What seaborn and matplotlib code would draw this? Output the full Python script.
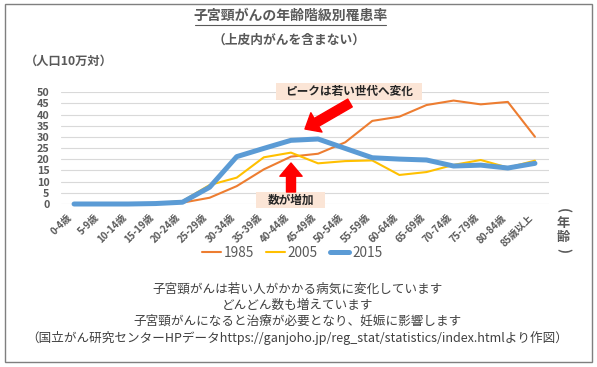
import matplotlib
matplotlib.use('Agg')
import matplotlib.pyplot as plt
from matplotlib.patches import Rectangle
from matplotlib.lines import Line2D
import pandas as pd
import seaborn as sns

ages = ['0-4歳', '5-9歳', '10-14歳', '15-19歳', '20-24歳', '25-29歳', '30-34歳',
        '35-39歳', '40-44歳', '45-49歳', '50-54歳', '55-59歳', '60-64歳',
        '65-69歳', '70-74歳', '75-79歳', '80-84歳', '85歳以上']
r1985 = [0, 0, 0, 0.2, 0.6, 2.8, 8.0, 15.5, 21.2, 22.5, 27.6, 37.2, 39.1,
         44.3, 46.3, 44.6, 45.7, 30.1]
r2005 = [0, 0, 0, 0.4, 1.3, 8.5, 11.8, 20.9, 23.0, 18.2, 19.2, 19.5, 13.0,
         14.3, 17.5, 19.7, 16.3, 19.4]
r2015 = [0, 0, 0, 0.2, 0.8, 7.5, 21.2, 24.9, 28.5, 29.1, 24.9, 20.7, 20.1,
         19.7, 17.0, 17.4, 16.1, 18.2]
years = ['1985', '2005', '2015']
colors = ['#ED7D31', '#FFC000', '#5B9BD5']
widths = [1.5, 1.5, 3.6]

sns.set_style('white')
plt.rcParams['font.family'] = ['Noto Sans CJK JP', 'DejaVu Sans']

W, H = 597, 367
fig = plt.figure(figsize=(W / 100, H / 100), dpi=100)


def px(x, y):
    # pixel position (from top-left) -> figure fraction
    return x / W, 1 - y / H


ax = fig.add_axes([60.5 / W, 1 - 204 / H, 488 / W, 111.7 / H])
n = len(ages)
df = pd.DataFrame({
    'age': ages * 3,
    'rate': r1985 + r2005 + r2015,
    'year': [y for y in years for _ in range(n)],
})
for yr, c, lw in zip(years, colors, widths):
    sns.lineplot(data=df[df['year'] == yr], x='age', y='rate', color=c,
                 linewidth=lw, ax=ax, sort=False, clip_on=False)

ax.set_xlim(-0.5, n - 0.5)
ax.set_ylim(0, 50)
ax.set_yticks(range(0, 51, 5))
ax.yaxis.grid(True, color='#D9D9D9', linewidth=0.8)
ax.xaxis.grid(False)
for s in ax.spines.values():
    s.set_visible(False)
ax.set_xlabel('')
ax.set_ylabel('')
ax.tick_params(axis='both', length=0, colors='#595959')
ax.tick_params(axis='y', pad=8, labelsize=7.8)
ax.tick_params(axis='x', pad=6, labelsize=7)
for t in ax.get_yticklabels():
    t.set_fontweight('bold')
for t in ax.get_xticklabels():
    t.set_rotation(45)
    t.set_ha('right')
    t.set_va('top')
    t.set_fontweight('bold')

# legend
handles = [Line2D([], [], color=c, lw=lw) for c, lw in zip(colors, widths)]
leg = fig.legend(handles, years, loc='center', bbox_to_anchor=px(292, 253),
                 ncol=3, frameon=False, handlelength=1.4, handletextpad=0.2,
                 columnspacing=0.9, prop={'size': 9.8})
for t in leg.get_texts():
    t.set_color('#595959')

# titles
gray = '#595959'
fig.text(*px(290.5, 16), '子宮頸がんの年齢階級別罹患率', ha='center', va='center',
         fontsize=10, fontweight='bold', color=gray)
fig.add_artist(Line2D([195 / W, 386 / W], [1 - 25 / H, 1 - 25 / H],
                      color=gray, lw=0.8))
fig.text(*px(289, 40), '（上皮内がんを含まない）', ha='center', va='center',
         fontsize=9.2, fontweight='bold', color=gray)
fig.text(*px(25, 61), '（人口10万対）', ha='left', va='center',
         fontsize=8.8, fontweight='bold', color=gray)

# vertical axis title (年齢) at the right
for ch, yy, rot in [('(', 210, -90), ('年', 223, 0), ('齢', 237, 0), (')', 250, -90)]:
    fig.text(*px(563, yy), ch, ha='center', va='center', rotation=rot,
             fontsize=9.5, fontweight='bold', color=gray)

# annotation boxes
box_c = '#FBE5D6'
fig.add_artist(Rectangle(px(276, 100), 146 / W, 17 / H, facecolor=box_c,
                         edgecolor='none', transform=fig.transFigure))
fig.text(*px(349, 91.5), 'ピークは若い世代へ変化', ha='center', va='center',
         fontsize=8.4, fontweight='bold', color='#262626')
fig.add_artist(Rectangle(px(256, 208), 69 / W, 16 / H, facecolor=box_c,
                         edgecolor='none', transform=fig.transFigure))
fig.text(*px(290.5, 200), '数が増加', ha='center', va='center',
         fontsize=8.4, fontweight='bold', color='#262626')

arrow = dict(arrowstyle='simple,head_length=0.95,head_width=1.6,tail_width=0.65',
             color='#FF0000', shrinkA=0, shrinkB=0, mutation_scale=10)
fig.add_artist(plt.Annotation('', xy=px(305, 129), xytext=px(350, 103),
                              xycoords='figure fraction', arrowprops=arrow))
fig.add_artist(plt.Annotation('', xy=px(291, 163), xytext=px(291, 192),
                              xycoords='figure fraction', arrowprops=arrow))

# notes
notes = ['子宮頸がんは若い人がかかる病気に変化しています',
         'どんどん数も増えています',
         '子宮頸がんになると治療が必要となり、妊娠に影響します',
         '（国立がん研究センターHPデータhttps://ganjoho.jp/reg_stat/statistics/index.htmlより作図）']
for txt, yy in zip(notes, [289, 305, 321, 338]):
    fig.text(*px(297.5, yy), txt, ha='center', va='center', fontsize=9.05,
             color='#404040')

# frame
fig.add_artist(Rectangle(px(5, 362), 587 / W, 358 / H, facecolor='none',
                         edgecolor='#7F7F7F', lw=1, transform=fig.transFigure))

fig.savefig('out.png', dpi=100)
